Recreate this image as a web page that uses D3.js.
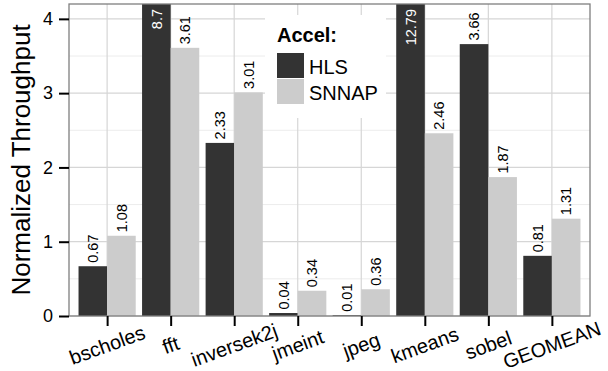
<!DOCTYPE html>
<html>
<head>
<meta charset="utf-8">
<script src="https://cdn.jsdelivr.net/npm/d3@7"></script>
<style>
  body { margin: 0; background: #fff; }
  svg { font-family: "Liberation Sans", Arial, sans-serif; }
</style>
</head>
<body>
<div id="chart"></div>
<script>
const categories = ["bscholes", "fft", "inversek2j", "jmeint", "jpeg", "kmeans", "sobel", "GEOMEAN"];
const series = ["HLS", "SNNAP"];
const hlsValues = [0.67, 8.7, 2.33, 0.04, 0.01, 12.79, 3.66, 0.81];
const snnapValues = [1.08, 3.61, 3.01, 0.34, 0.36, 2.46, 1.87, 1.31];
const yTicks = [0, 1, 2, 3, 4];

const W = 608, H = 371;
const margin = { top: 4, right: 18, bottom: 55, left: 69 };
const yMax = 4.2;
const colors = { HLS: "#333333", SNNAP: "#cccccc" };

const data = [];
categories.forEach((c, i) => {
    data.push({ category: c, series: "HLS", value: hlsValues[i] });
    data.push({ category: c, series: "SNNAP", value: snnapValues[i] });
});

const svg = d3.select("#chart").append("svg")
    .attr("width", W)
    .attr("height", H);

// ggplot-style discrete expansion: 0.6 of a step on each side
const n = categories.length;
const plotW = W - margin.left - margin.right;
const step = plotW / (n - 1 + 1.2);
const x = d3.scalePoint()
    .domain(categories)
    .range([margin.left + 0.6 * step, W - margin.right - 0.6 * step]);
const dodge = d3.scaleBand()
    .domain(series)
    .range([-0.45 * step, 0.45 * step])
    .padding(0);

const y = d3.scaleLinear()
    .domain([0, yMax])
    .range([H - margin.bottom, margin.top]);

// grid
const grid = svg.append("g");
grid.selectAll(".minor")
    .data([0.5, 1.5, 2.5, 3.5])
    .enter().append("line")
    .attr("x1", margin.left).attr("x2", W - margin.right)
    .attr("y1", d => y(d)).attr("y2", d => y(d))
    .attr("stroke", "#ececec").attr("stroke-width", 1);
grid.selectAll(".major")
    .data(yTicks)
    .enter().append("line")
    .attr("x1", margin.left).attr("x2", W - margin.right)
    .attr("y1", d => y(d)).attr("y2", d => y(d))
    .attr("stroke", "#d6d6d6").attr("stroke-width", 1.2);
grid.selectAll(".vmajor")
    .data(categories)
    .enter().append("line")
    .attr("x1", d => x(d)).attr("x2", d => x(d))
    .attr("y1", margin.top).attr("y2", H - margin.bottom)
    .attr("stroke", "#d6d6d6").attr("stroke-width", 1.2);

svg.append("clipPath").attr("id", "panel")
    .append("rect")
    .attr("x", margin.left).attr("y", margin.top)
    .attr("width", plotW).attr("height", H - margin.bottom - margin.top);

// legend background (drawn under bars, over grid)
const legX = 265, legY = 15;
svg.append("rect")
    .attr("x", legX).attr("y", legY)
    .attr("width", 121).attr("height", 103)
    .attr("fill", "#fff");

// bars
const bars = svg.append("g").attr("clip-path", "url(#panel)");
bars.selectAll("rect")
    .data(data)
    .enter().append("rect")
    .attr("x", d => x(d.category) + dodge(d.series))
    .attr("y", d => y(Math.min(d.value, yMax + 0.1)))
    .attr("width", dodge.bandwidth())
    .attr("height", d => y(0) - y(Math.min(d.value, yMax + 0.1)))
    .attr("fill", d => colors[d.series]);

// value labels
svg.append("g").selectAll("text")
    .data(data)
    .enter().append("text")
    .attr("transform", d => {
        const cx = x(d.category) + dodge(d.series) + dodge.bandwidth() / 2;
        const cy = d.value > yMax ? margin.top + 5 : y(d.value) - 3.5;
        return `translate(${cx},${cy}) rotate(-90)`;
    })
    .attr("text-anchor", d => d.value > yMax ? "end" : "start")
    .attr("dy", "0.36em")
    .attr("font-size", 14.5)
    .attr("fill", d => d.value > yMax ? "#fff" : "#000")
    .text(d => d.value);

// panel border
svg.append("rect")
    .attr("x", margin.left).attr("y", margin.top)
    .attr("width", plotW).attr("height", H - margin.bottom - margin.top)
    .attr("fill", "none").attr("stroke", "#7f7f7f").attr("stroke-width", 1.3);

// y axis
const yAxis = svg.append("g")
    .attr("transform", `translate(${margin.left},0)`)
    .call(d3.axisLeft(y).tickValues(yTicks).tickSize(10).tickPadding(6).tickFormat(d3.format("d")));
yAxis.select(".domain").remove();
yAxis.selectAll("line").attr("stroke", "#000").attr("stroke-width", 2);
yAxis.selectAll("text").attr("font-size", 18).attr("fill", "#000")
    .attr("font-family", "Liberation Sans, Arial, sans-serif");

// x axis
const xAxis = svg.append("g")
    .attr("transform", `translate(0,${H - margin.bottom})`)
    .call(d3.axisBottom(x).tickSize(10).tickFormat(""));
xAxis.select(".domain").remove();
xAxis.selectAll("line").attr("stroke", "#000").attr("stroke-width", 2);

svg.append("g").selectAll("text")
    .data(categories)
    .enter().append("text")
    .attr("transform", d => `translate(${x(d)},${H - margin.bottom + 29}) rotate(-20)`)
    .attr("text-anchor", "middle")
    .attr("dy", "0.35em")
    .attr("font-size", 20)
    .text(d => d);

// y axis title
svg.append("text")
    .attr("transform", `translate(30,${(margin.top + H - margin.bottom) / 2}) rotate(-90)`)
    .attr("text-anchor", "middle")
    .attr("font-size", 26)
    .text("Normalized Throughput");

// legend
const legend = svg.append("g");
legend.append("text")
    .attr("x", 277).attr("y", 41.5)
    .attr("font-size", 20).attr("font-weight", "bold")
    .text("Accel:");
series.forEach((s, i) => {
    legend.append("rect")
        .attr("x", 277).attr("y", 53 + i * 26)
        .attr("width", 27).attr("height", 25)
        .attr("fill", colors[s]);
    legend.append("text")
        .attr("x", 309).attr("y", 74 + i * 26)
        .attr("font-size", 20)
        .text(s);
});
</script>
</body>
</html>
